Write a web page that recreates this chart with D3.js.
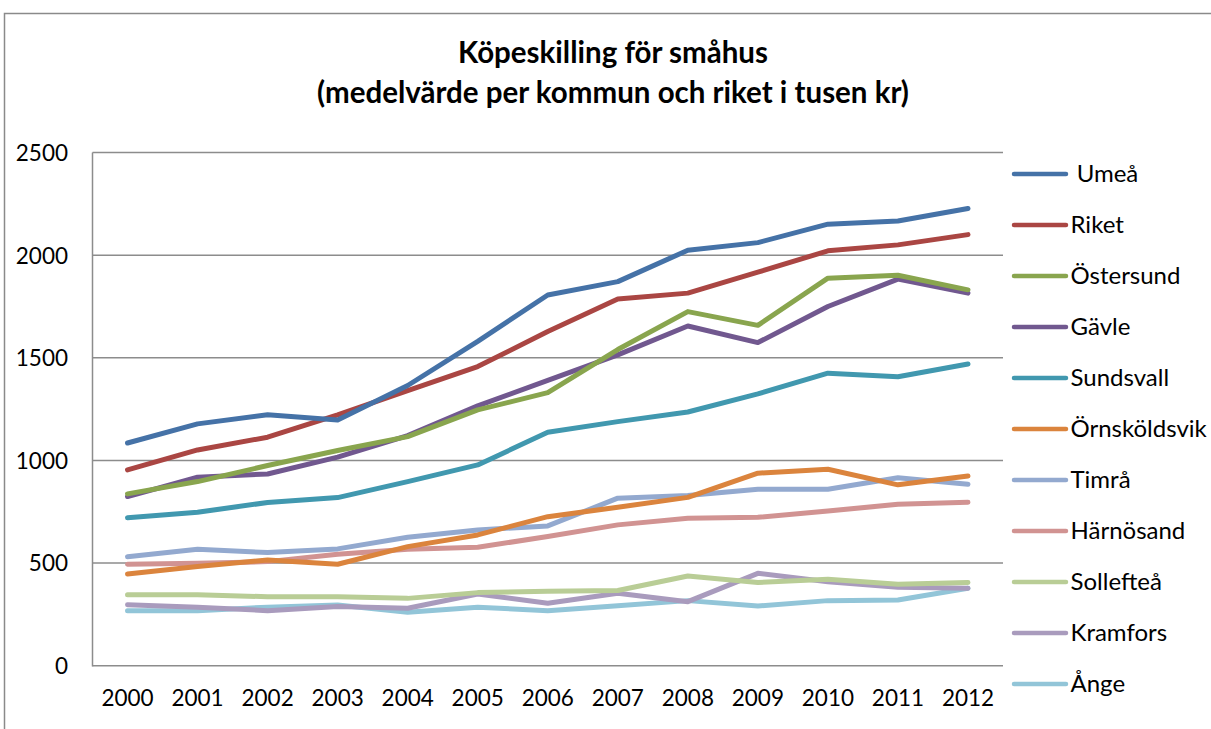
<!DOCTYPE html>
<html><head><meta charset="utf-8">
<script src="https://cdn.jsdelivr.net/npm/d3@7"></script>
<style>html,body{margin:0;padding:0;background:#fff;}svg{display:block;font-family:Lato,"Open Sans",sans-serif;}</style>
</head><body>
<script>
const years = ["2000","2001","2002","2003","2004","2005","2006","2007","2008","2009","2010","2011","2012"];
const seriesNames = [" Umeå","Riket","Östersund","Gävle","Sundsvall","Örnsköldsvik","Timrå","Härnösand","Sollefteå","Kramfors","Ånge"];
const umea        = [1085,1178,1222,1197,1365,1580,1806,1871,2024,2061,2151,2166,2227];
const riket       = [954,1051,1113,1222,1340,1457,1628,1786,1815,1917,2021,2050,2100];
const ostersund   = [837,897,975,1048,1116,1246,1330,1540,1725,1658,1888,1902,1831];
const gavle       = [824,918,934,1016,1121,1266,1390,1514,1655,1574,1750,1883,1815];
const sundsvall   = [721,748,795,819,897,978,1137,1189,1236,1324,1425,1408,1470];
const ornskoldsvik= [447,483,515,494,580,637,726,772,820,938,957,881,924];
const timra       = [531,567,551,569,626,661,681,816,829,860,860,916,884];
const harnosand   = [494,499,507,543,567,577,629,686,718,723,754,786,796];
const solleftea   = [346,346,336,336,328,356,363,366,437,405,421,397,405];
const kramfors    = [297,285,268,288,280,349,304,353,312,450,409,382,377];
const ange        = [268,268,285,296,260,285,268,292,317,291,317,320,377];
const yTicks = [0,500,1000,1500,2000,2500];
const titleLines = ["Köpeskilling för småhus","(medelvärde per kommun och riket i tusen kr)"];
const colors = ["#4572a7","#aa4643","#89a54e","#71588f","#4198af","#db843d","#93a9cf","#d19392","#b9cd96","#a99bbd","#92c5d8"];

const allSeries = [umea,riket,ostersund,gavle,sundsvall,ornskoldsvik,timra,harnosand,solleftea,kramfors,ange];

const W=1211,H=729;
const svg=d3.select("body").append("svg").attr("width",W).attr("height",H);
svg.append("rect").attr("width",W).attr("height",H).attr("fill","#fff");
// outer frame
svg.append("path").attr("d","M4.5,"+H+"V13.5H"+W).attr("fill","none").attr("stroke","#8a8a8a").attr("stroke-width",1.5);

const L=92.5,R=1003,T=152.5,B=665.7;
const x=d3.scaleBand().domain(years).range([L,R]);
const y=d3.scaleLinear().domain([0,2500]).range([B,T]);

// title
svg.append("g").selectAll("text").data(titleLines).join("text")
  .attr("x",613).attr("y",(d,i)=>63+i*40).attr("text-anchor","middle")
  .attr("font-weight","bold").attr("font-size",29.5).attr("fill","#000").text(d=>d);

// gridlines
const gridG=svg.append("g");
gridG.selectAll("line").data(yTicks).join("line")
  .attr("x1",L).attr("x2",R).attr("y1",d=>y(d)).attr("y2",d=>y(d))
  .attr("stroke","#8c8c8c").attr("stroke-width",1.5);
gridG.append("line").attr("x1",L).attr("x2",L).attr("y1",T).attr("y2",B+0.75).attr("stroke","#8c8c8c").attr("stroke-width",1.5);

// y axis labels
const yAxis=d3.axisLeft(y).tickValues(yTicks).tickSize(0).tickPadding(0).tickFormat(d3.format("d"));
const ya=svg.append("g").attr("transform","translate(68,0)").call(yAxis);
ya.select(".domain").remove();
ya.selectAll("text").attr("font-size",22.5).attr("font-family","Lato,sans-serif").attr("fill","#000").attr("dy","0.35em");

// x axis labels
const xAxis=d3.axisBottom(x).tickSize(0).tickPadding(0);
const xa=svg.append("g").attr("transform","translate(0,698)").call(xAxis);
xa.select(".domain").remove();
xa.selectAll("text").attr("font-size",22.5).attr("font-family","Lato,sans-serif").attr("fill","#000").attr("dy","0.35em");

// lines
const line=d3.line().x((d,i)=>x(years[i])+x.bandwidth()/2).y(d=>y(d));
const order=d3.range(allSeries.length).reverse();
svg.append("g").selectAll("path").data(order).join("path")
  .attr("d",i=>line(allSeries[i])).attr("fill","none").attr("stroke",i=>colors[i])
  .attr("stroke-width",5).attr("stroke-linejoin","round").attr("stroke-linecap","round");

// legend
const lg=svg.append("g");
const rows=lg.selectAll("g").data(seriesNames).join("g").attr("transform",(d,i)=>`translate(0,${174+i*51})`);
rows.append("line").attr("x1",1014).attr("x2",1066).attr("stroke",(d,i)=>colors[i]).attr("stroke-width",4.5).attr("stroke-linecap","round");
rows.append("text").attr("x",1070.5).attr("dy","0.35em").attr("font-size",24).attr("fill","#000").attr("xml:space","preserve").style("white-space","pre").text(d=>d);
</script>
</body></html>
